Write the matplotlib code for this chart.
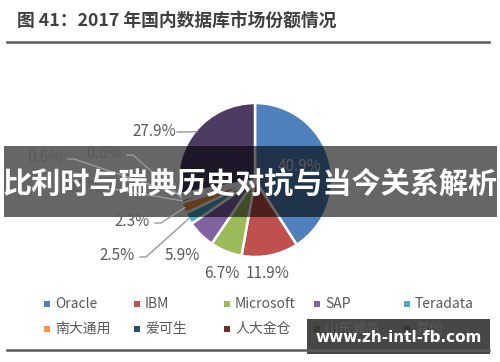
import numpy as np
import matplotlib

matplotlib.use("Agg")
import matplotlib.pyplot as plt

plt.rcParams["font.family"] = ["Noto Sans CJK SC", "DejaVu Sans"]

TITLE = "图 41：2017 年国内数据库市场份额情况"
NAMES = ["Oracle", "IBM", "Microsoft", "SAP", "Teradata",
         "南大通用", "爱可生", "人大金仓", "山东瀚高", "其他"]
SHARES = [40.9, 11.9, 6.7, 5.9, 2.5, 2.3, 0.7, 0.6, 0.6, 27.9]
COLORS = ["#4F81BD", "#C0504D", "#9BBB59", "#8064A2", "#4BACC6",
          "#F79646", "#2C4D75", "#772C2A", "#5F7530", "#4D3B62"]
BANNER = "比利时与瑞典历史对抗与当今关系解析"
WATERMARK = "www.zh-intl-fb.com"

W, H = 500, 362
CX, CY, R = 255, 180, 77
# label text positions (px), None = inside the slice
LABEL_POS = [None, (268, 274), (222, 274), (182, 255), (117, 256),
             (132, 222), (84, 188), (104, 154), (45, 158), (154, 131)]
LEADER = [False, False, False, False, True, True, True, True, True, True]
GRAY = "#595959"

fig = plt.figure(figsize=(W / 100, H / 100), dpi=100)

# pie in its own axes, placed by pixel geometry
pax = fig.add_axes([(CX - R) / W, (H - CY - R) / H, 2 * R / W, 2 * R / H])
wedges, _ = pax.pie(SHARES, colors=COLORS, startangle=90, counterclock=False,
                    radius=1, wedgeprops=dict(edgecolor="white", linewidth=1.8))
pax.set_xlim(-1, 1); pax.set_ylim(-1, 1); pax.set_aspect("equal"); pax.axis("off")

# overlay in pixel coordinates
ax = fig.add_axes([0, 0, 1, 1], zorder=5)
ax.set_xlim(0, W); ax.set_ylim(H, 0); ax.axis("off")

ax.text(17, 21, TITLE, fontsize=12.8, fontweight="bold", color="#404040", va="center")
ax.plot([7, 489], [42, 42], color="#5a5a5a", lw=1.8)
ax.plot([7, 489], [350, 350], color="#5a5a5a", lw=1.8)

for w, v, pos, lead in zip(wedges, SHARES, LABEL_POS, LEADER):
    mid = np.deg2rad((w.theta1 + w.theta2) / 2)
    if pos is None:
        pos = (CX + 0.6 * R * np.cos(mid), CY - 0.6 * R * np.sin(mid))
    ax.text(pos[0], pos[1], f"{v}%", fontsize=11, color=GRAY, ha="center", va="center")
    if lead:
        axx, ayy = CX + 0.98 * R * np.cos(mid), CY - 0.98 * R * np.sin(mid)
        x0 = pos[0] + 23
        ax.plot([x0, x0 + 6, axx], [pos[1] + 1, pos[1] + 1, ayy],
                color="#999999", lw=1.0)

# legend, two rows of five
for i, (n, c) in enumerate(zip(NAMES, COLORS)):
    x, y = 47 + 90 * (i % 5), 304 + 25 * (i // 5)
    ax.scatter([x], [y], marker="s", s=14, color=c, linewidths=0)
    ax.text(x + 8, y, n, fontsize=10, color=GRAY, va="center")

# overlay banner and watermark
ax.add_patch(plt.Rectangle((4, 146), 493, 71, color="black", alpha=0.6, lw=0))
ax.text(250, 183, BANNER, fontsize=21, fontweight="bold", color="white",
        ha="center", va="center")
ax.add_patch(plt.Rectangle((307, 319), 183, 35, color="#333333", alpha=0.9, lw=0))
ax.text(399, 337, WATERMARK, fontsize=11, fontweight="bold", color="white",
        ha="center", va="center", family="DejaVu Sans")

fig.savefig("out.png", dpi=100)
